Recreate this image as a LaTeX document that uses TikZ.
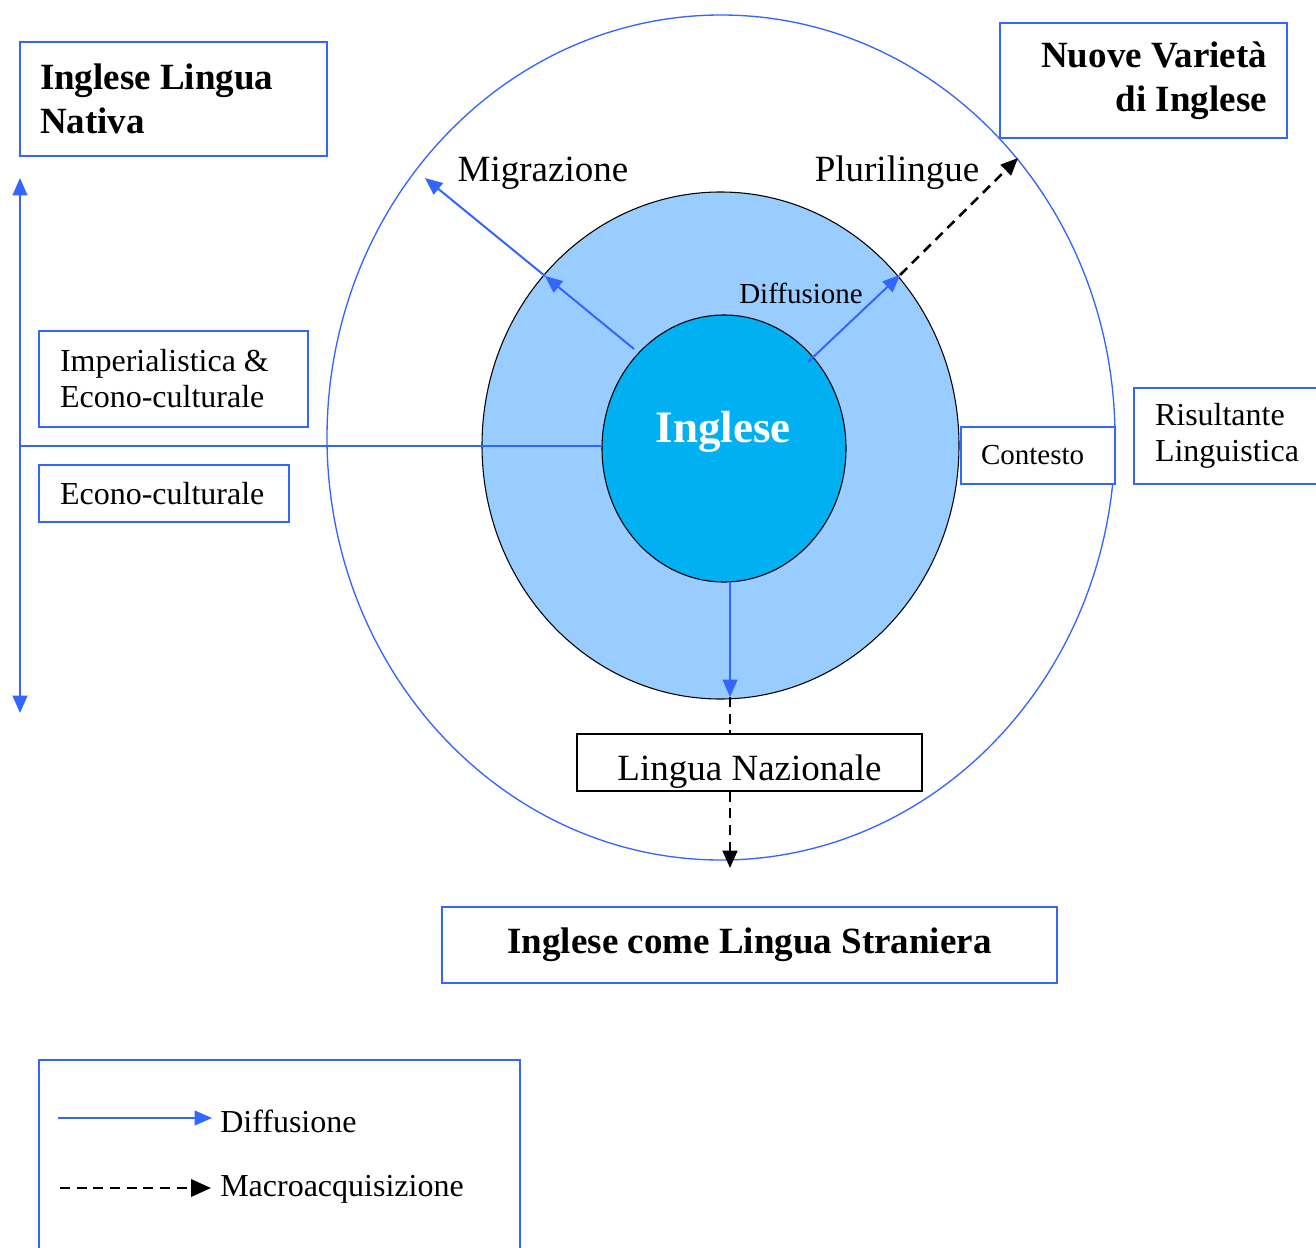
\documentclass[tikz,border=0pt]{standalone}
\usepackage{fontspec}
\setmainfont{Liberation Serif}
\usetikzlibrary{arrows.meta,shapes.geometric}
\newdimen\pxu \pxu=0.75pt
\definecolor{lblue}{HTML}{3366FF}
\definecolor{midfill}{HTML}{99CCFF}
\definecolor{infill}{HTML}{00B0F0}
\newcommand\szHuge{\fontsize{33.75pt}{40pt}\selectfont}
\newcommand\szBig{\fontsize{27.75pt}{33pt}\selectfont}
\newcommand\szMid{\fontsize{24pt}{27pt}\selectfont}
\newcommand\szSmall{\fontsize{21.75pt}{26pt}\selectfont}
\begin{document}
\begin{tikzpicture}[x=0.75pt,y=-0.75pt,
  tip/.style={-{Triangle[length=13pt,width=11pt]}},
  bluebox/.style={draw=lblue, line width=1.5pt, fill=white, inner ysep=0pt, inner xsep=20\pxu},
  blackbox/.style={draw=black, line width=1.2pt, fill=white, inner sep=0pt},
  diffarrow/.style={draw=lblue, line width=1.5pt, tip},
  diffline/.style={draw=lblue, line width=1.5pt},
  macroarrow/.style={draw=black, line width=1.9pt, dash pattern=on 7.5pt off 5pt, tip},
  macroline/.style={draw=black, line width=1.9pt, dash pattern=on 7.5pt off 5pt},
  lbl/.style={inner sep=0pt}]
\useasboundingbox (0,0) rectangle (1316,1248);

% circles
\node[ellipse, draw=lblue, line width=1pt, fill=white, inner sep=0pt,
  minimum width=788\pxu, minimum height=845\pxu] (outer) at (721,437.5) {};
\node[ellipse, draw=black, line width=0.8pt, fill=midfill, inner sep=0pt,
  minimum width=477\pxu, minimum height=507\pxu] (mid) at (720.5,445.5) {};
\node[ellipse, draw=black, line width=0.8pt, fill=infill, inner sep=0pt,
  minimum width=244\pxu, minimum height=267\pxu] (inner) at (724,448.5) {};
\node[lbl, text=white, font=\szHuge\bfseries] (ingl) at (723,432) {Inglese};

% connector coordinates
\coordinate (m0) at (634,349);
\coordinate (m1) at (545,276);
\coordinate (m2) at (425,178);
\coordinate (p0) at (808,362);
\coordinate (p1) at (900,275);
\coordinate (p2) at (1018,158);
\coordinate (d0) at (730,582);
\coordinate (d1) at (730,697);
\coordinate (d3) at (730,868);
\coordinate (vtop) at (20,178);
\coordinate (vbot) at (20,713);
\coordinate (hl) at (20,446);
\coordinate (hr) at (602,446);

% boxes
\node[bluebox, text width=267\pxu, align=flush left, minimum height=114\pxu, font=\szBig\bfseries,
  execute at begin node={\baselineskip=33pt}] (nativa) at (173.5,99) {Inglese Lingua\\Nativa};
\node[bluebox, text width=247\pxu, align=flush right, minimum height=115\pxu, font=\szBig\bfseries,
  execute at begin node={\baselineskip=33pt}] (nuove) at (1143.5,80.5) {Nuove Variet\`a\\di Inglese};
\node[bluebox, inner xsep=21\pxu, text width=227\pxu, align=flush left, minimum height=96\pxu, font=\szMid] (imper) at (173.5,379) {Imperialistica \&\\Econo-culturale};
\node[bluebox, inner xsep=21\pxu, text width=208\pxu, align=flush left, minimum height=57\pxu, font=\szMid] (econo) at (164,493.5) {Econo-culturale};
\node[bluebox, text width=114\pxu, align=flush left, minimum height=57\pxu, font=\szSmall] (contesto) at (1038,455.5) {Contesto};
\node[bluebox, inner xsep=21\pxu, text width=145\pxu, align=flush left, minimum height=96\pxu, font=\szMid] (risult) at (1227.5,436) {Risultante\\Linguistica};
\node[blackbox, minimum width=345\pxu, minimum height=57\pxu, font=\szBig,
  text height=35\pxu, text depth=0pt] (nazion) at (749.5,762.5) {Lingua Nazionale};
\node[bluebox, minimum width=615\pxu, minimum height=76\pxu, font=\szBig\bfseries] (stran) at (749.5,945) {Inglese come Lingua Straniera};
\node[draw=lblue, line width=1.5pt, fill=white, inner sep=0pt, minimum width=481\pxu, minimum height=220\pxu] (legend) at (279.5,1170) {};

% connectors
\draw[diffarrow] (m0) -- (m1);
\draw[diffarrow] (m1) -- (m2);
\draw[diffarrow] (p0) -- (p1);
\draw[macroarrow] (p1) -- (p2);
\draw[diffarrow] (d0) -- (d1);
\draw[macroline] (d1) -- (nazion.north -| d1);
\draw[macroarrow] (nazion.south -| d1) -- (d3);
\draw[diffline, {Triangle[length=13pt,width=11pt]}-{Triangle[length=13pt,width=11pt]}] (vtop) -- (vbot);
\draw[diffline] (hl) -- (hr);

% labels
\node[lbl, font=\szBig] (migr) at (543,173) {Migrazione};
\node[lbl, font=\szBig] (pluri) at (897,173) {Plurilingue};
\node[lbl, font=\szSmall] (diffc) at (801,293) {Diffusione};

% legend
\coordinate (la) at (58,1118);
\coordinate (lb) at (212,1118);
\coordinate (lc) at (60,1188);
\coordinate (ld) at (211,1188);
\draw[diffarrow] (la) -- (lb);
\draw[macroline, -{Triangle[length=15pt,width=13pt]}] (lc) -- (ld);
\node[lbl, anchor=west, font=\szMid] (ldiff) at (220,1121) {Diffusione};
\node[lbl, anchor=west, font=\szMid] (lmacro) at (220,1189) {Macroacquisizione};
\end{tikzpicture}
\end{document}
